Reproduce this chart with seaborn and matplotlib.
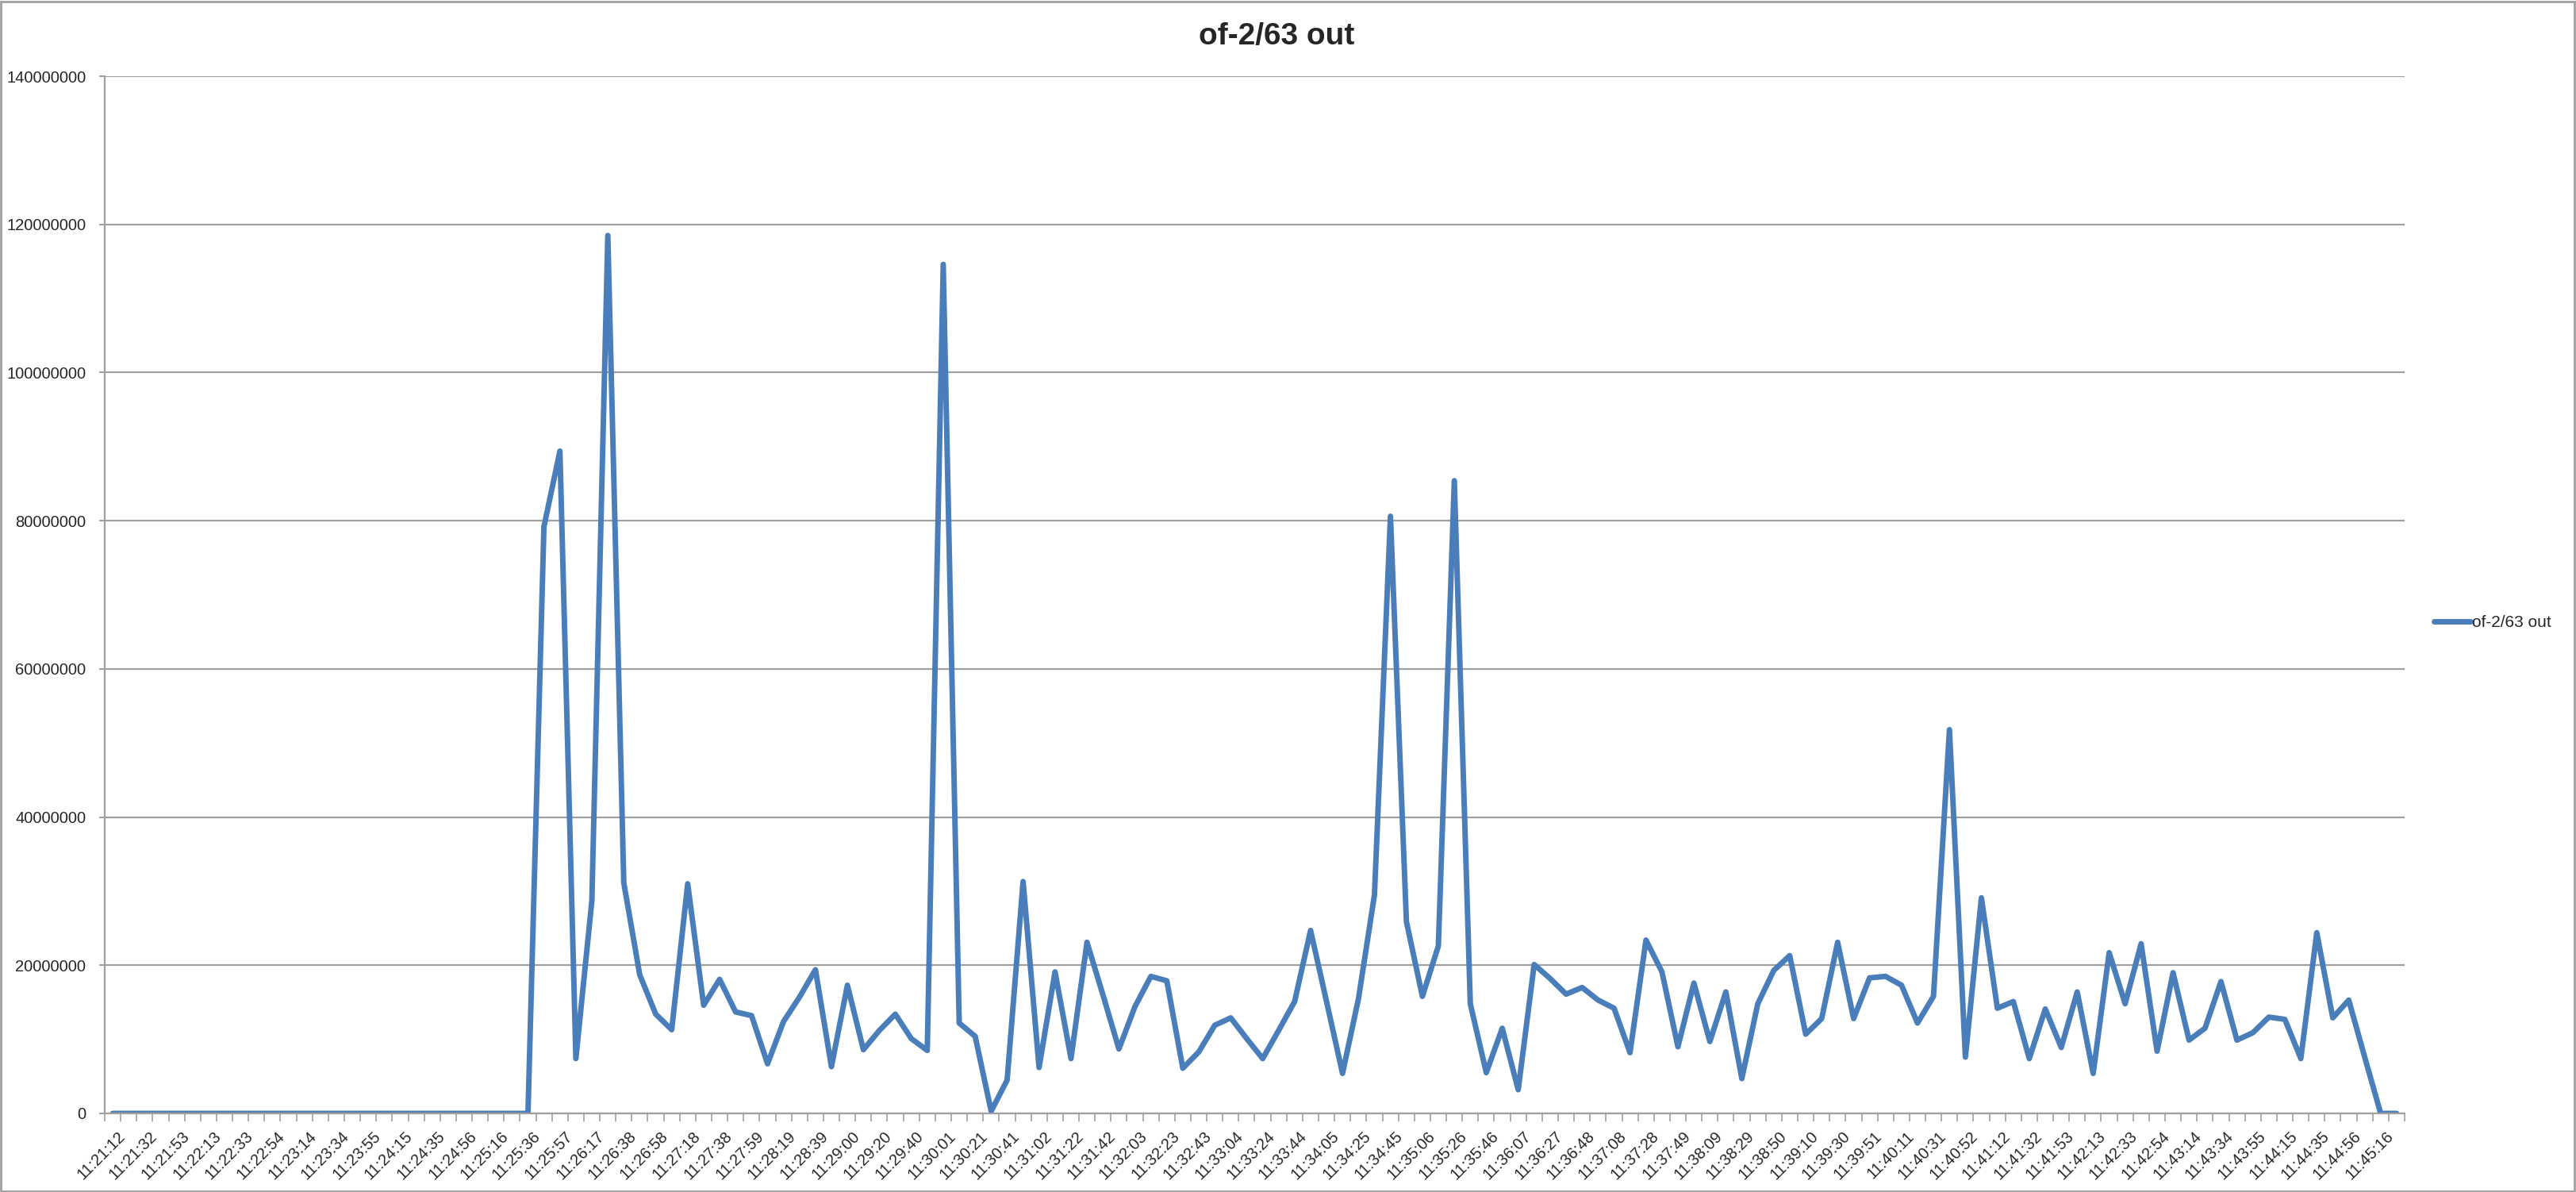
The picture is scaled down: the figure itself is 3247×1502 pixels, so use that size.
import matplotlib
matplotlib.use("Agg")
import matplotlib.pyplot as plt
import matplotlib.patches as mpatches
import seaborn as sns
import pandas as pd
import numpy as np

title = "of-2/63 out"
series_name = "of-2/63 out"

# labels shown on every second category
tick_labels = [
    "11:21:12", "11:21:32", "11:21:53", "11:22:13", "11:22:33", "11:22:54",
    "11:23:14", "11:23:34", "11:23:55", "11:24:15", "11:24:35", "11:24:56",
    "11:25:16", "11:25:36", "11:25:57", "11:26:17", "11:26:38", "11:26:58",
    "11:27:18", "11:27:38", "11:27:59", "11:28:19", "11:28:39", "11:29:00",
    "11:29:20", "11:29:40", "11:30:01", "11:30:21", "11:30:41", "11:31:02",
    "11:31:22", "11:31:42", "11:32:03", "11:32:23", "11:32:43", "11:33:04",
    "11:33:24", "11:33:44", "11:34:05", "11:34:25", "11:34:45", "11:35:06",
    "11:35:26", "11:35:46", "11:36:07", "11:36:27", "11:36:48", "11:37:08",
    "11:37:28", "11:37:49", "11:38:09", "11:38:29", "11:38:50", "11:39:10",
    "11:39:30", "11:39:51", "11:40:11", "11:40:31", "11:40:52", "11:41:12",
    "11:41:32", "11:41:53", "11:42:13", "11:42:33", "11:42:54", "11:43:14",
    "11:43:34", "11:43:55", "11:44:15", "11:44:35", "11:44:56", "11:45:16",
]

# values in millions (one per sample)
values_m = [
    0, 0, 0, 0, 0, 0, 0, 0, 0, 0,
    0, 0, 0, 0, 0, 0, 0, 0, 0, 0,
    0, 0, 0, 0, 0, 0, 0, 79.2, 89.4, 7.4,
    28.7, 118.5, 31.1, 18.7, 13.4, 11.3, 31.0, 14.6, 18.1, 13.7,
    13.2, 6.7, 12.4, 15.7, 19.4, 6.3, 17.3, 8.6, 11.2, 13.4,
    10.1, 8.5, 114.6, 12.2, 10.4, 0.3, 4.5, 31.3, 6.2, 19.1,
    7.4, 23.1, 16.0, 8.7, 14.4, 18.5, 17.9, 6.1, 8.3, 11.9,
    12.9, 10.1, 7.4, 11.2, 15.1, 24.7, 15.1, 5.4, 15.5, 29.5,
    80.6, 25.9, 15.8, 22.6, 85.4, 14.8, 5.5, 11.5, 3.2, 20.1,
    18.2, 16.1, 17.0, 15.3, 14.2, 8.2, 23.4, 19.1, 9.0, 17.6,
    9.7, 16.4, 4.7, 14.8, 19.3, 21.3, 10.7, 12.8, 23.1, 12.8,
    18.3, 18.5, 17.3, 12.2, 15.8, 51.8, 7.6, 29.1, 14.2, 15.1,
    7.4, 14.1, 8.9, 16.4, 5.4, 21.7, 14.8, 22.9, 8.4, 19.0,
    9.9, 11.5, 17.8, 9.9, 10.9, 13.0, 12.7, 7.4, 24.4, 12.9,
    15.3, 7.6, 0, 0,
]

y_ticks = [0, 20000000, 40000000, 60000000, 80000000, 100000000, 120000000, 140000000]

df = pd.DataFrame({
    "sample": np.arange(len(values_m)),
    "value": np.array(values_m) * 1e6,
})

sns.set_style("white")
plt.rcParams["font.family"] = ["Liberation Sans", "DejaVu Sans"]

W, H, DPI = 3247, 1502, 100
fig = plt.figure(figsize=(W / DPI, H / DPI), dpi=DPI)
ax = fig.add_axes([132 / W, 1 - 1403 / H, (3031 - 132) / W, (1403 - 96) / H])

line_color = "#4a7ebb"
grid_color = "#a0a0a0"
lw = 5.0

sns.lineplot(data=df, x="sample", y="value", ax=ax, color=line_color,
             linewidth=lw, label=series_name, solid_joinstyle="round",
             solid_capstyle="round")

n = len(values_m)
ax.set_xlim(-0.5, n - 0.5)
ax.set_ylim(0, 140000000)

# y axis
ax.set_yticks(y_ticks)
ax.set_yticklabels([str(v) for v in y_ticks])
ax.yaxis.grid(True, color=grid_color, linewidth=1.6)
ax.set_axisbelow(True)
ax.tick_params(axis="y", which="major", length=5, width=1.4, color=grid_color,
               labelsize=14.5, pad=12, left=True, direction="out")

# x axis: tick marks between categories, labels on every second category
ax.set_xticks(np.arange(0, 2 * len(tick_labels), 2))
ax.set_xticklabels(tick_labels, rotation=45, ha="right", va="top",
                   rotation_mode="anchor")
ax.set_xticks(np.arange(-0.5, n, 1), minor=True)
ax.tick_params(axis="x", which="major", length=0, labelsize=14.5, pad=14)
ax.tick_params(axis="x", which="minor", length=7, width=1.2, color=grid_color,
               bottom=True, direction="out")
for lbl in ax.get_xticklabels():
    lbl.set_transform(lbl.get_transform() + matplotlib.transforms.ScaledTranslation(6 / DPI, 0, fig.dpi_scale_trans))

ax.set_xlabel("")
ax.set_ylabel("")
for s in ["top", "right"]:
    ax.spines[s].set_visible(False)
for s in ["left", "bottom"]:
    ax.spines[s].set_color(grid_color)
    ax.spines[s].set_linewidth(1.6)

fig.suptitle(title, x=1609 / W, y=1 - 46 / H, fontsize=28, fontweight="bold",
             va="center")

leg = ax.legend(loc="center left", bbox_to_anchor=(3068 / W, 1 - 785 / H),
                bbox_transform=fig.transFigure, frameon=False, fontsize=15,
                handlelength=2.2, handletextpad=0.1, borderaxespad=0,
                borderpad=0)
for h in leg.get_lines():
    h.set_linewidth(lw)
    h.set_solid_capstyle("round")

# outer chart border
fig.patches.append(mpatches.Rectangle((1 / W, 1 / H), 1 - 3 / W, 1 - 3 / H,
                                      transform=fig.transFigure, fill=False,
                                      edgecolor=grid_color, linewidth=2))

fig.savefig("out.png", dpi=DPI, facecolor="white")
